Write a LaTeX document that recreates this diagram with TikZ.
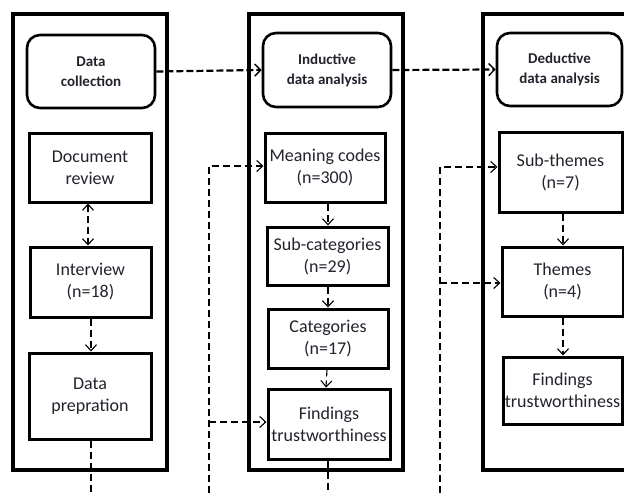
\documentclass[tikz,border=0pt]{standalone}
\usepackage{fontspec}
\setmainfont{Carlito}
\usetikzlibrary{arrows.meta,calc}
\definecolor{txt}{RGB}{35,35,45}
\definecolor{thin}{RGB}{75,75,75}
\tikzset{
  outerbox/.style={draw, line width=3.3pt, inner sep=0pt},
  headbox/.style={draw, line width=2.6pt, rounded corners=13pt, inner sep=0pt, align=center, text=txt, font=\bfseries\fontsize{15}{20}\selectfont},
  stepbox/.style={draw, line width=3pt, inner sep=0pt, align=center, text=txt, font=\fontsize{18}{22}\selectfont},
  bigarrow/.style={line width=2.2pt, dash pattern=on 7pt off 3pt, -{Straight Barb[length=6pt,width=12pt,line width=1.4pt]}},
  thinline/.style={thin, line width=1.1pt, dash pattern=on 7pt off 4pt},
  thinarrow/.style={thinline, -{Straight Barb[length=6pt,width=11pt,line width=1.1pt]}},
}
\begin{document}
\begin{tikzpicture}[x=1pt,y=-1pt]
\clip (0,0) rectangle (624,493);
\fill[white] (0,0) rectangle (624,493);
% containers
\node[outerbox, minimum width=154, minimum height=456] (col1) at (90,242) {};
\node[outerbox, minimum width=154, minimum height=456] (col2) at (326,242) {};
\node[outerbox, minimum width=160, minimum height=456] (col3) at (563,242) {};
% column 1
\node[headbox, minimum width=128, minimum height=73] (dc) at (91,71.5) {Data\\collection};
\node[stepbox, minimum width=122, minimum height=69] (docrev) at (90,167.5) {Document\\review};
\node[stepbox, minimum width=121, minimum height=70] (interview) at (90.5,282) {Interview\\(n=18)};
\node[stepbox, minimum width=122, minimum height=86] (prep) at (90,396) {Data\\prepration};
% column 2
\node[headbox, minimum width=128, minimum height=74] (ind) at (327,70) {Inductive\\data analysis};
\node[stepbox, minimum width=120, minimum height=69] (mc) at (325,167.5) {Meaning codes\\(n=300)};
\node[stepbox, minimum width=121, minimum height=58] (sub) at (327.5,256) {Sub-categories\\(n=29)};
\node[stepbox, minimum width=120, minimum height=59] (cat) at (328,338.5) {Categories\\(n=17)};
\node[stepbox, minimum width=122, minimum height=70] (find2) at (329,424) {Findings\\trustworthiness};
% column 3
\node[headbox, minimum width=125, minimum height=73] (ded) at (559.5,69.5) {Deductive\\data analysis};
\node[stepbox, minimum width=123, minimum height=80] (subth) at (560.5,172) {Sub-themes\\(n=7)};
\node[stepbox, minimum width=121, minimum height=69] (themes) at (562.5,281.5) {Themes\\(n=4)};
\node[stepbox, minimum width=119, minimum height=67] (find3) at (562.5,390.5) {Findings\\trustworthiness};
% free ends
\coordinate (b1) at (91,493);
\coordinate (b2) at (209,493);
\coordinate (b3) at (328,493);
\coordinate (b4) at (440,493);
\coordinate (j2) at (209,422);
\coordinate (j4) at (440,283);
% header arrows
\draw[bigarrow] (dc.east) -- (ind.west);
\draw[bigarrow] (ind.east) -- (ded.west);
% column 1 connectors
\draw[thinline, {Straight Barb[length=6pt,width=11pt,line width=1.1pt]}-{Straight Barb[length=6pt,width=11pt,line width=1.1pt]}] ([xshift=-2pt]docrev.south) -- ([xshift=-2.5pt]interview.north);
\draw[thinarrow] ([xshift=0.5pt]interview.south) -- ([xshift=1pt]prep.north);
\draw[thinline] ([xshift=1pt]prep.south) -- (b1);
% column 2 connectors
\draw[thinarrow] (b2) |- ([yshift=1.5pt]mc.west);
\draw[thinarrow] (j2) -- (j2 -| find2.west);
\draw[thinarrow] ([xshift=3pt]mc.south) -- ([xshift=0.5pt]sub.north);
\draw[thinarrow] ([xshift=0.5pt]sub.south) -- ([xshift=0pt]cat.north);
\draw[thinarrow] ([xshift=-1pt]cat.south) -- ([xshift=-3pt]find2.north);
\draw[thinline] ([xshift=-1pt]find2.south) -- (b3);
% column 3 connectors
\draw[thinarrow] (b4) |- ([yshift=5pt]subth.west);
\draw[thinarrow] (j4) -- (j4 -| themes.west);
\draw[thinarrow] ([xshift=2.5pt]subth.south) -- ([xshift=0.5pt]themes.north);
\draw[thinarrow] ([xshift=0.5pt]themes.south) -- ([xshift=0.5pt]find3.north);
\end{tikzpicture}
\end{document}
